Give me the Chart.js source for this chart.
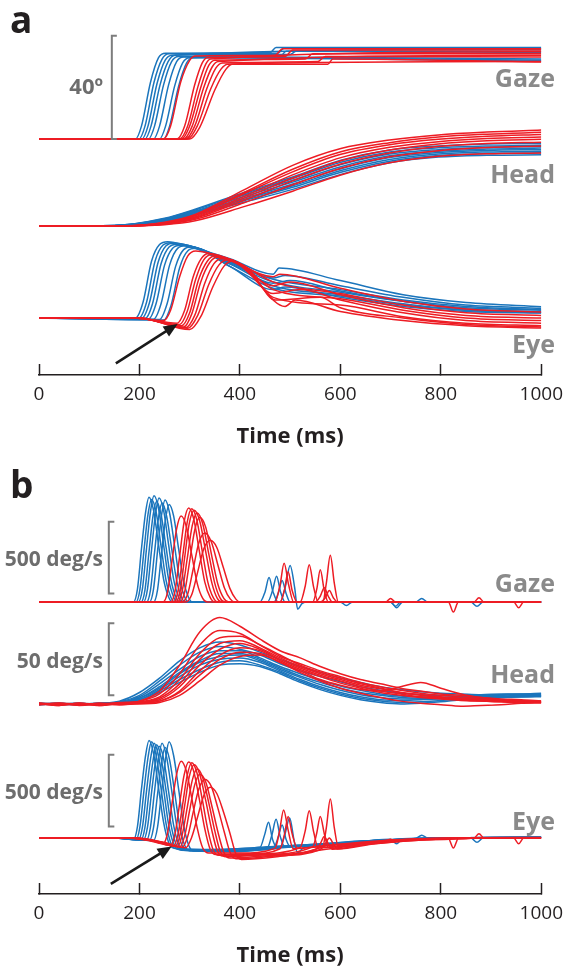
<!DOCTYPE html>
<html><head><meta charset="utf-8">
<script src="https://cdn.jsdelivr.net/npm/chart.js@4.4.1/dist/chart.umd.min.js"></script>
<style>
html,body{margin:0;padding:0;background:#fff;}
#wrap{position:relative;width:582px;height:969px;overflow:hidden;font-family:'Open Sans',sans-serif;}
.pane{position:absolute;left:0;width:582px;}
.t{position:absolute;line-height:1;white-space:nowrap;font-weight:700;}
</style></head><body>
<div id="wrap">
<div class="pane" style="top:0;height:450px"><canvas id="ca"></canvas></div>
<div class="pane" style="top:450px;height:519px"><canvas id="cb"></canvas></div>
<div class="t" style="left:10px;top:0px;font-size:37px;color:#231f20">a</div>
<div class="t" style="left:10px;top:465px;font-size:37px;color:#231f20">b</div>
<div class="t" style="right:479px;top:73.8px;font-size:22px;color:#6d6d6d">40º</div>
<div class="t" style="right:27px;top:65px;font-size:25px;color:#8a8a8a">Gaze</div>
<div class="t" style="right:27px;top:161px;font-size:25px;color:#8a8a8a">Head</div>
<div class="t" style="right:27px;top:331px;font-size:25px;color:#8a8a8a">Eye</div>
<div class="t" style="right:479px;top:548px;font-size:21px;color:#6d6d6d">500 deg/s</div>
<div class="t" style="right:479px;top:649.6px;font-size:21px;color:#6d6d6d">50 deg/s</div>
<div class="t" style="right:479px;top:781.4px;font-size:21px;color:#6d6d6d">500 deg/s</div>
<div class="t" style="right:27px;top:570px;font-size:25px;color:#8a8a8a">Gaze</div>
<div class="t" style="right:27px;top:661px;font-size:25px;color:#8a8a8a">Head</div>
<div class="t" style="right:27px;top:808px;font-size:25px;color:#8a8a8a">Eye</div>
</div>
<script>
const timeTicks=[0,200,400,600,800,1000];

// ---------- panel a : positions (deg) ----------
const gazePosRed=[
 [[0,0],[248,0],[262,5],[282,22],[300,30.5],[312,32.2],[470,32.5],[485,35],[1000,35]],
 [[0,0],[275,0],[290,5],[310,21],[325,29.5],[335,31.5],[490,32],[505,34.5],[1000,34.5]],
 [[0,0],[280,0],[296,5],[316,20],[332,29],[342,31],[1000,33.8]],
 [[0,0],[284,0],[300,5],[322,20],[338,28.5],[350,30.5],[530,31],[545,33],[1000,33]],
 [[0,0],[288,0],[305,5],[328,20],[345,28],[357,30],[1000,32.5]],
 [[0,0],[292,0],[310,5],[334,19.5],[352,27.5],[365,29.5],[555,30],[570,32],[1000,31.8]],
 [[0,0],[296,0],[315,5],[342,19.5],[362,27],[376,29],[1000,30]],
 [[0,0],[300,0],[320,4.5],[350,19],[372,27],[385,29],[575,29],[585,31],[1000,29.8]]
];
const gazePosBlue=[
 [[0,0],[192,0],[204,5],[222,22],[238,31.5],[252,33.2],[460,33.5],[472,35.5],[1000,35.5]],
 [[0,0],[199,0],[211,5],[229,22],[245,31],[259,33],[475,33.2],[488,35.2],[1000,35.2]],
 [[0,0],[205,0],[217,5],[235,21.5],[251,30.5],[265,32.5],[1000,34.8]],
 [[0,0],[211,0],[223,5],[241,21],[257,30],[271,32.5],[500,32.8],[512,34],[1000,33.5]],
 [[0,0],[218,0],[230,5],[248,21],[264,30],[278,32],[1000,31]],
 [[0,0],[228,0],[240,5],[258,21],[274,30],[288,31.8],[1000,30.5]],
 [[0,0],[240,0],[252,5],[270,20.5],[286,29.5],[300,31.5],[1000,30.2]],
 [[0,0],[248,0],[260,5],[278,20.5],[294,29.5],[306,31.5],[480,32],[492,34],[1000,34]]
];
const headPosTimes=[0,150,250,311,408,505,601,698,795,892,1000];
const headPosRed=[
 [0,0,1.5,4.5,14,23.5,30,33.3,35.3,36.4,37.2],
 [0,0,1.3,4.2,13,22,28.8,32.3,34.5,35.6,36.3],
 [0,0,1.2,4,12.5,21,27.8,31.5,33.6,34.8,35.5],
 [0,0,1,3.6,11.5,19.8,26.5,30.5,32.7,33.9,34.5],
 [0,0,0.9,3.3,10.8,18.6,25.3,29.5,31.8,33,33.6],
 [0,0,0.8,3,10,17.5,24,28.3,30.8,32,32.5],
 [0,0,0.7,2.6,9,16,22.4,26.8,29.2,30.4,31],
 [0,0,0.5,2,7.5,13.5,19.8,24.5,27,28,28.3]
];
const headPosBlue=[
 [0,0.2,3,6.5,13,19,25.5,29.5,31,31.8,32],
 [0,0.2,2.8,6.2,12.5,18.4,24.7,28.7,30.3,31,31.3],
 [0,0.2,2.6,5.8,12,17.7,23.8,27.9,29.6,30.4,30.8],
 [0,0.1,2.5,5.5,11.4,17,23,27.2,29,29.8,30.2],
 [0,0.1,2.3,5.2,10.8,16.3,22.2,26.5,28.5,29.3,29.6],
 [0,0.1,2.1,4.9,10.3,15.6,21.5,25.8,27.9,28.7,29],
 [0,0.1,2,4.6,9.8,15,20.8,25.1,27.3,28.1,28.4],
 [0,0.1,1.8,4.3,9.2,14.2,20,24.5,26.7,27.4,27.6]
];
const eyePosRed=[
 [[0,0],[180,0],[248,-1],[262,3],[280,16],[296,24],[312,26],[380,22.5],[466,16],[480,17],[600,11.5],[725,6.5],[850,3.5],[1000,2.3]],
 [[0,0],[190,0],[275,-2],[290,3],[307,16],[323,23],[338,25],[400,21],[466,14],[600,9.5],[725,5],[850,2],[1000,1]],
 [[0,0],[190,0],[280,-2.5],[295,2.5],[312,15],[328,22.5],[343,24.5],[400,20.5],[466,12.5],[500,14],[600,9],[725,4],[850,1],[1000,0]],
 [[0,0],[195,0],[284,-3],[300,2],[318,15],[335,22],[350,24],[400,21],[466,11],[600,7.5],[725,3],[850,0],[1000,-1]],
 [[0,0],[195,0],[288,-3.5],[304,1.5],[322,14],[340,21.5],[356,23.5],[400,21],[466,9.5],[520,11],[600,7],[725,2],[850,-1],[1000,-2]],
 [[0,0],[200,0],[292,-3.8],[310,1],[330,13.5],[348,21],[364,23],[410,20],[466,8],[600,5],[725,0.5],[850,-2],[1000,-3]],
 [[0,0],[200,0],[296,-4],[316,1],[338,13],[358,20.5],[374,22.5],[420,18.5],[470,7],[560,8],[600,4],[725,0],[850,-2.5],[1000,-3.5]],
 [[0,0],[200,0],[300,-4.5],[322,0.5],[346,12],[368,20],[384,22],[420,17],[490,4.5],[510,7],[600,2.5],[725,-1],[850,-3],[1000,-3.9]]
];
const eyePosBlue=[
 [[0,0],[192,0],[207,6],[224,22],[240,28.5],[256,29.6],[300,27.5],[380,23],[466,17],[478,19.4],[600,14.5],[725,9],[850,6],[1000,4.4]],
 [[0,0],[199,0],[214,6],[231,22],[247,28.3],[262,29.2],[300,28],[380,22],[466,15.5],[490,16.5],[600,12.5],[725,8],[850,5],[1000,3.8]],
 [[0,0],[205,0],[220,6],[237,21.5],[253,28],[268,29],[380,21.5],[466,15],[600,11],[725,7],[850,4.5],[1000,3.2]],
 [[0,0],[211,-0.3],[226,5.5],[243,21],[259,27.5],[275,28.6],[380,21],[466,14],[600,10],[725,6.5],[850,4],[1000,3]],
 [[0,0],[218,-0.4],[233,5.5],[250,20.5],[266,27],[282,28.2],[380,22],[466,13.5],[500,14.5],[600,10.5],[725,6.5],[850,3.5],[1000,2.5]],
 [[0,0],[228,-0.5],[243,5.5],[260,20.5],[276,27],[292,28],[380,21],[466,12.5],[600,9],[725,5.5],[850,3],[1000,2.2]],
 [[0,0],[240,-0.6],[255,5.5],[272,20],[288,26.5],[303,27.5],[380,20],[466,11.5],[600,8.5],[725,5],[850,3],[1000,2]],
 [[0,0],[248,-0.8],[263,5],[280,19.5],[296,26],[312,27],[380,20],[466,11],[490,12],[600,8],[725,4.5],[850,2.5],[1000,1.9]]
];

// ---------- panel b : velocities (deg/s) ----------
const gazeVelRed=[
 [[0,0],[247,0],[256,70],[265,290],[274,510],[283,600],[293,530],[304,330],[315,130],[326,25],[335,0],[470,0],[480,120],[488,270],[497,120],[507,0],[1000,0]],
 [[0,0],[262,0],[271,80],[280,320],[289,560],[298,655],[308,580],[319,360],[330,140],[341,30],[350,0],[480,0],[489,90],[496,210],[504,80],[514,0],[690,0],[700,25],[710,0],[1000,0]],
 [[0,0],[268,0],[277,80],[286,315],[295,555],[304,650],[314,575],[325,355],[336,140],[347,30],[356,0],[520,0],[530,110],[538,260],[547,100],[556,0],[1000,0]],
 [[0,0],[272,0],[281,75],[290,310],[299,545],[309,640],[320,565],[332,350],[344,135],[355,25],[364,0],[545,0],[553,90],[560,225],[568,80],[576,0],[815,0],[825,-70],[835,0],[1000,0]],
 [[0,0],[276,0],[285,75],[295,300],[305,530],[315,620],[326,545],[338,335],[350,130],[361,25],[370,0],[565,0],[572,130],[580,325],[588,130],[596,0],[1000,0]],
 [[0,0],[280,0],[290,70],[300,285],[310,500],[320,590],[332,520],[344,320],[356,125],[368,25],[378,0],[550,0],[560,40],[568,100],[576,40],[584,0],[866,0],[876,30],[886,0],[1000,0]],
 [[0,0],[285,0],[296,55],[307,230],[318,410],[330,480],[343,420],[356,260],[369,100],[381,20],[390,0],[560,0],[570,30],[578,80],[586,30],[594,0],[945,0],[955,-40],[965,0],[1000,0]],
 [[0,0],[292,0],[304,50],[316,210],[328,370],[341,430],[354,380],[367,240],[380,95],[392,20],[400,0],[1000,0]]
];
const gazeVelBlue=[
 [[0,0],[188,0],[196,90],[204,370],[212,620],[219,730],[228,640],[238,400],[248,160],[258,35],[266,0],[440,0],[450,70],[458,170],[466,70],[476,0],[700,0],[710,-30],[720,0],[1000,0]],
 [[0,0],[193,0],[201,90],[209,360],[217,610],[224,715],[233,630],[243,390],[253,150],[263,30],[271,0],[700,0],[712,-40],[724,0],[1000,0]],
 [[0,0],[198,0],[206,95],[214,370],[222,630],[229,740],[238,650],[248,400],[258,160],[268,35],[276,0],[455,0],[465,80],[473,180],[481,70],[490,0],[1000,0]],
 [[0,0],[203,0],[211,85],[219,350],[227,600],[234,700],[243,610],[253,380],[263,150],[273,30],[281,0],[750,0],[762,25],[774,0],[1000,0]],
 [[0,0],[208,0],[216,90],[224,360],[232,615],[239,725],[248,640],[258,400],[268,160],[278,35],[286,0],[480,0],[490,100],[500,255],[509,100],[515,-50],[524,-10],[535,0],[1000,0]],
 [[0,0],[214,0],[222,85],[230,345],[238,590],[245,690],[254,600],[264,375],[274,150],[284,30],[292,0],[468,0],[477,70],[484,150],[492,60],[500,0],[860,0],[872,-30],[884,0],[1000,0]],
 [[0,0],[220,0],[228,90],[236,355],[244,605],[251,710],[260,620],[270,390],[280,155],[290,35],[298,0],[1000,0]],
 [[0,0],[228,0],[236,85],[244,340],[252,580],[259,680],[268,600],[278,370],[288,145],[298,30],[306,0],[600,0],[612,-25],[624,0],[1000,0]]
];
const headVelTimes=[0,40,80,120,160,200,240,280,320,360,400,440,480,520,560,600,640,680,720,760,800,840,880,920,960,1000];
const headVelRed=[
 [0.5,-1,0.5,-0.5,0.5,2,9,27,50,60,54,45,37,32,26,21,17,14,11,9,7,6,4.5,3.5,3,2],
 [-0.5,0.5,-1,0,1,2,7,21,41,51,49,41,33,28,23,19,15,12,9.5,7.5,6,5,3.5,3,2.5,2],
 [0,-0.5,0.5,-1,0.5,1.5,5,17,35,46,47,41,34,27,22,18,14,11,8,6.5,5,4,3,2.5,2,1.5],
 [0.5,0,-0.5,0.5,-0.5,1,4,14,31,42,44,39,32,26,21,17,13,10.5,8,6,4.5,3.5,2.5,2,1.5,1],
 [-0.5,0.5,0,-1,0,1,3,12,27,38,42,38,31,25,20,16,12,9,7,5,4,3,2,1.5,1,0.8],
 [0,-1,0.5,0,0.5,0.5,2,9,23,34,39,37,30,24,19,14.5,11,8,6,4.5,3.5,2.5,2,1.5,1,1],
 [0.5,0,-0.5,0,-0.5,0.5,2,8,20,31,36,35,29,23,17,13,10,9,12,15,11,7,4.5,3,2,1.5],
 [0,0.5,-0.5,0.5,0,0,1,6,16,27,33,34,29,22,16,11,7.5,4.5,2,0.5,-0.5,-1.5,-1,-0.5,0.5,1]
];
const headVelBlue=[
 [0,0.5,-0.5,0.5,2,8,18,30,39,43,41,36,31,26,22,18,15,12,10,8.5,7.5,7,6.5,7,7,7.5],
 [-0.5,0,0.5,-0.5,1.5,6,16,27,36,40,38,34,28,23,19,15.5,12,9.5,7.5,6.5,6,5.5,6,6.5,7,7],
 [0.5,-0.5,0,0.5,1,5,14,24,33,37,37,32,26,21,16.5,12.5,9.5,7,5.5,5,4.5,5,5.5,6,6.5,6.5],
 [0,0.5,-0.5,0,1,4,12,22,30,35,35,31,25,19.5,15,11,8,6,4.5,4,4.5,5,5.5,5.5,6,6],
 [0.5,0,0.5,-0.5,1,4,11,21,29,33,34,30,24,18.5,13.5,9.5,6.5,4.5,3.5,3.5,4,4.5,5,5,5.5,5.5],
 [-0.5,0.5,0,0.5,0.5,3,10,19,27,31,32,29,23,17,12,8,5,3,2.5,3,3.5,4,4.5,5,5,5.5],
 [0,-0.5,0.5,0,0.5,3,9,17,24,29,30,27,22,16,11,7,4,2,1,1.5,2.5,3.5,4,4.5,5,5],
 [0.5,0,-0.5,0.5,0.5,2,8,15,22,27,28,26,21,15,10,6,3,1,0,0.5,1.5,3,4,4.5,5,5.5]
];
const eyeVelRed=[
 [[0,0],[170,0],[215,-15],[247,-40],[256,35],[265,245],[274,445],[283,535],[293,470],[304,280],[315,70],[326,-70],[338,-105],[400,-105],[470,-72],[479,50],[487,195],[496,55],[506,-75],[570,-52],[660,-25],[750,-6],[850,1],[1000,3]],
 [[0,0],[180,0],[225,-20],[262,-52],[271,30],[280,240],[289,440],[298,530],[308,465],[319,275],[330,65],[341,-80],[352,-115],[420,-110],[480,-75],[489,30],[496,150],[504,30],[514,-70],[600,-45],[690,-18],[700,-8],[710,-18],[780,-4],[880,1],[1000,2]],
 [[0,0],[180,0],[230,-22],[268,-55],[277,30],[286,235],[295,435],[304,525],[314,460],[325,270],[336,60],[347,-85],[358,-120],[430,-112],[520,-65],[530,50],[538,190],[547,40],[556,-70],[620,-42],[710,-15],[800,-2],[900,1],[1000,2]],
 [[0,0],[185,0],[235,-25],[272,-58],[281,25],[290,225],[299,425],[309,510],[320,445],[332,260],[344,55],[355,-90],[366,-125],[440,-115],[545,-62],[553,35],[560,150],[568,30],[576,-65],[650,-35],[740,-12],[815,-4],[825,-70],[835,-4],[900,0],[1000,1]],
 [[0,0],[185,0],[238,-25],[276,-60],[285,20],[295,210],[305,400],[315,480],[326,420],[338,245],[350,50],[361,-95],[372,-130],[450,-118],[565,-60],[572,70],[580,272],[588,70],[596,-60],[660,-32],[750,-10],[850,-1],[1000,0]],
 [[0,0],[190,0],[240,-28],[280,-62],[290,15],[300,195],[310,370],[320,445],[332,390],[344,225],[356,45],[368,-100],[380,-140],[460,-122],[550,-80],[560,-40],[568,10],[576,-40],[584,-78],[660,-40],[760,-12],[866,0],[876,30],[886,0],[1000,0]],
 [[0,0],[190,0],[245,-30],[285,-65],[296,10],[307,180],[318,340],[330,410],[343,360],[356,210],[369,40],[381,-105],[392,-145],[470,-125],[560,-80],[570,-40],[578,0],[586,-40],[594,-76],[670,-40],[770,-12],[880,0],[945,0],[955,-40],[965,0],[1000,0]],
 [[0,0],[195,0],[250,-32],[292,-68],[304,5],[316,150],[328,295],[341,354],[354,310],[367,185],[380,35],[392,-110],[403,-150],[480,-128],[580,-75],[680,-35],[780,-10],[880,0],[1000,0]]
];
const eyeVelBlue=[
 [[0,0],[150,0],[188,-10],[196,80],[204,340],[212,570],[219,680],[228,590],[238,350],[248,110],[258,-30],[268,-70],[330,-80],[440,-65],[449,20],[457,110],[465,-10],[474,-65],[560,-45],[650,-22],[740,-5],[850,2],[1000,5]],
 [[0,0],[150,0],[193,-12],[201,80],[209,330],[217,560],[224,670],[233,580],[243,345],[253,100],[263,-40],[273,-75],[340,-85],[450,-62],[560,-42],[650,-20],[700,-8],[712,-40],[724,-5],[800,0],[1000,5]],
 [[0,0],[150,0],[198,-12],[206,78],[214,325],[222,550],[229,660],[238,570],[248,340],[258,95],[268,-40],[278,-80],[350,-88],[455,-65],[464,25],[472,130],[480,15],[489,-60],[560,-45],[650,-22],[740,-6],[850,1],[1000,4]],
 [[0,0],[150,0],[203,-14],[211,75],[219,320],[227,540],[234,650],[243,560],[253,330],[263,90],[273,-45],[283,-85],[360,-90],[460,-62],[560,-42],[650,-20],[750,-3],[762,20],[774,0],[850,2],[1000,6]],
 [[0,0],[150,0],[208,-14],[216,75],[224,315],[232,535],[239,640],[248,555],[258,325],[268,90],[278,-45],[288,-85],[360,-92],[480,-66],[490,30],[499,140],[508,-20],[515,-105],[526,-70],[600,-38],[680,-18],[760,-4],[850,2],[1000,5]],
 [[0,0],[150,0],[214,-15],[222,78],[230,325],[238,550],[245,660],[254,565],[264,335],[274,90],[284,-45],[294,-82],[370,-88],[468,-62],[477,15],[484,90],[492,-10],[500,-60],[600,-38],[700,-14],[780,-3],[860,0],[872,-30],[884,0],[1000,4]],
 [[0,0],[150,0],[220,-16],[228,72],[236,305],[244,525],[251,630],[260,545],[270,320],[280,85],[290,-50],[300,-88],[380,-92],[480,-65],[580,-42],[680,-16],[780,-2],[900,3],[1000,6]],
 [[0,0],[150,0],[228,-18],[236,75],[244,320],[252,550],[259,670],[268,575],[278,340],[288,90],[298,-50],[308,-90],[390,-95],[490,-66],[590,-40],[600,-40],[612,-60],[624,-38],[700,-12],[800,0],[1000,5]]
];

// ---------- styling & layout ----------
const BLUE='#1b75bc', RED='#ed1c24', INK='#231f20';
const FONT="'Open Sans', sans-serif";

function ds(points,color,axis){
  return {data:points.map(p=>({x:p[0],y:p[1]})),borderColor:color,yAxisID:axis,borderWidth:1.5,
    pointRadius:0,pointHoverRadius:0,cubicInterpolationMode:'monotone',fill:false};
}
function gridDs(times,vals,color,axis){ return ds(times.map((t,i)=>[t,vals[i]]),color,axis); }

// each hidden y axis places its zero at a given distance above the time axis
function band(baseAbove,pxPerUnit,areaH){
  const min=-baseAbove/pxPerUnit; return {type:'linear',display:false,min:min,max:min+areaH/pxPerUnit};
}
function xAxis(){
  return {type:'linear',min:0,max:1000,position:'bottom',
    afterBuildTicks(s){ s.ticks=timeTicks.map(v=>({value:v})); },
    afterFit(s){ s.height=75; },
    ticks:{color:INK,font:{family:FONT,size:19},padding:19,maxRotation:0,autoSkip:false,callback:v=>String(v)},
    grid:{display:true,drawOnChartArea:false,drawTicks:true,tickLength:-11,tickColor:INK,tickWidth:1.5,color:INK},
    border:{display:true,color:INK,width:1.5},
    title:{display:true,text:'Time (ms)',color:INK,font:{family:FONT,size:22,weight:'bold'},padding:{top:0,bottom:0}}
  };
}
const annot={id:'annot',
  afterDatasetsDraw(chart,args,opts){
    const ctx=chart.ctx, xs=chart.scales.x;
    ctx.save();
    (opts.brackets||[]).forEach(b=>{
      const ys=chart.scales[b.axis];
      const x0=xs.getPixelForValue(b.t), x1=xs.getPixelForValue(b.tEnd);
      const yA=ys.getPixelForValue(b.from), yB=ys.getPixelForValue(b.to);
      ctx.strokeStyle='#7d7d7d'; ctx.lineWidth=2; ctx.lineCap='butt'; ctx.lineJoin='miter';
      ctx.beginPath(); ctx.moveTo(x1,yA); ctx.lineTo(x0,yA); ctx.lineTo(x0,yB); ctx.lineTo(x1,yB); ctx.stroke();
    });
    (opts.arrows||[]).forEach(a=>{
      const ys=chart.scales[a.axis];
      const x0=xs.getPixelForValue(a.from[0]), y0=ys.getPixelForValue(a.from[1]);
      const x1=xs.getPixelForValue(a.to[0]), y1=ys.getPixelForValue(a.to[1]);
      const ang=Math.atan2(y1-y0,x1-x0), L=14, W=6, c=Math.cos(ang), s=Math.sin(ang);
      ctx.strokeStyle=ctx.fillStyle='#1a1a1a'; ctx.lineWidth=2.6;
      ctx.beginPath(); ctx.moveTo(x0,y0); ctx.lineTo(x1-L*0.8*c,y1-L*0.8*s); ctx.stroke();
      ctx.beginPath(); ctx.moveTo(x1,y1);
      ctx.lineTo(x1-L*c+W*s,y1-L*s-W*c); ctx.lineTo(x1-L*c-W*s,y1-L*s+W*c);
      ctx.closePath(); ctx.fill();
    });
    ctx.restore();
  }
};
function makeChart(id,datasets,scales,annotOpts){
  return new Chart(document.getElementById(id),{type:'line',data:{datasets:datasets},
    options:{responsive:true,maintainAspectRatio:false,animation:false,devicePixelRatio:1,
      layout:{padding:{left:39,right:26,top:0,bottom:0}},
      plugins:{legend:{display:false},tooltip:{enabled:false},annot:annotOpts},
      events:[],scales:scales},
    plugins:[annot]});
}

// panel a
const dsA=[];
gazePosRed.forEach(t=>dsA.push(ds(t,RED,'yG')));
headPosRed.forEach(v=>dsA.push(gridDs(headPosTimes,v,RED,'yH')));
eyePosRed.forEach(t=>dsA.push(ds(t,RED,'yE')));
gazePosBlue.forEach(t=>dsA.push(ds(t,BLUE,'yG')));
headPosBlue.forEach(v=>dsA.push(gridDs(headPosTimes,v,BLUE,'yH')));
eyePosBlue.forEach(t=>dsA.push(ds(t,BLUE,'yE')));
const areaA=375, degPx=2.58;
makeChart('ca',dsA,{x:xAxis(),yG:band(236,degPx,areaA),yH:band(149,degPx,areaA),yE:band(57,degPx,areaA)},
  {brackets:[{axis:'yG',t:145,tEnd:155,from:0,to:40}],arrows:[{axis:'yE',from:[153,-17.6],to:[276,-2.3]}]});

// panel b
const dsB=[];
gazeVelRed.forEach(t=>dsB.push(ds(t,RED,'yG')));
headVelRed.forEach(v=>dsB.push(gridDs(headVelTimes,v,RED,'yH')));
eyeVelRed.forEach(t=>dsB.push(ds(t,RED,'yE')));
gazeVelBlue.forEach(t=>dsB.push(ds(t,BLUE,'yG')));
headVelBlue.forEach(v=>dsB.push(gridDs(headVelTimes,v,BLUE,'yH')));
eyeVelBlue.forEach(t=>dsB.push(ds(t,BLUE,'yE')));
const areaB=444;
makeChart('cb',dsB,{x:xAxis(),yG:band(292,0.1435,areaB),yH:band(190,1.44,areaB),yE:band(56,0.1435,areaB)},
  {brackets:[{axis:'yG',t:139,tEnd:150,from:60,to:560},{axis:'yH',t:139,tEnd:150,from:6,to:56},{axis:'yE',t:139,tEnd:150,from:80,to:580}],
   arrows:[{axis:'yE',from:[143,-320],to:[264,-60]}]});
</script>
</body></html>
